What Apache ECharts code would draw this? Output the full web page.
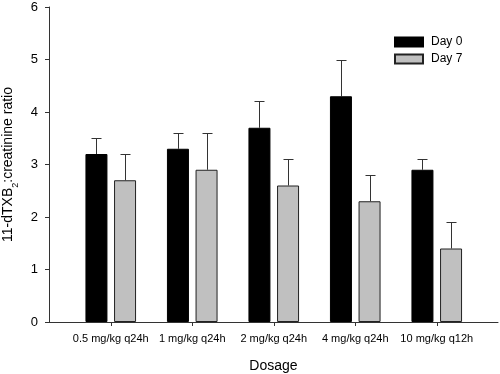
<!DOCTYPE html>
<html>
<head>
<meta charset="utf-8">
<script src="https://cdn.jsdelivr.net/npm/echarts@6/dist/echarts.min.js"></script>
<style>html,body{margin:0;padding:0;background:#fff}#c{width:500px;height:374px}</style>
</head>
<body>
<div id="c"></div>
<script>
const categories = ['0.5 mg/kg q24h', '1 mg/kg q24h', '2 mg/kg q24h', '4 mg/kg q24h', '10 mg/kg q12h'];
const day0 = [3.2, 3.3, 3.7, 4.3, 2.9];
const day0Err = [0.3, 0.3, 0.5, 0.7, 0.2];
const day7 = [2.7, 2.9, 2.6, 2.3, 1.4];
const day7Err = [0.5, 0.7, 0.5, 0.5, 0.5];
const yTicks = [0, 1, 2, 3, 4, 5, 6];

const FONT = 'Liberation Sans, Arial, sans-serif';
const BAR_W = 22;
const OFFSET = 14.3;

function errSeries(name, vals, errs, dx) {
  return {
    type: 'custom',
    name: name + ' err',
    xAxisIndex: 1, yAxisIndex: 1,
    silent: true,
    z: 1,
    encode: { x: 0, y: [1, 2] },
    data: vals.map((v, i) => [i, v, v + errs[i]]),
    renderItem: function (params, api) {
      const b = api.coord([api.value(0), api.value(1)]);
      const t = api.coord([api.value(0), api.value(2)]);
      const x = Math.round(b[0] + dx) + 0.5;
      const ty = Math.round(t[1]) + 0.5;
      const st = { stroke: '#333', lineWidth: 1 };
      return {
        type: 'group',
        children: [
          { type: 'line', shape: { x1: x, y1: b[1], x2: x, y2: ty }, style: st },
          { type: 'line', shape: { x1: x - 5, y1: ty, x2: x + 5, y2: ty }, style: st }
        ]
      };
    }
  };
}

const chart = echarts.init(document.getElementById('c'), null, { renderer: 'canvas' });
chart.setOption({
  animation: false,
  textStyle: { fontFamily: FONT },
  grid: [
    { left: 49, right: 2, top: 7, bottom: 52, containLabel: false, outerBoundsMode: 'none' },
    { left: 70, right: 22.5, top: 7, bottom: 52, containLabel: false, outerBoundsMode: 'none' }
  ],
  legend: {
    orient: 'vertical',
    left: 394, top: 36,
    padding: 0,
    itemWidth: 28, itemHeight: 9, itemGap: 5,
    icon: 'rect',
    textStyle: { fontSize: 12, color: '#000', fontFamily: FONT, padding: [0, 0, 0, 3] },
    data: ['Day 0', 'Day 7']
  },
  xAxis: [
    {
      gridIndex: 0, type: 'value', min: 0, max: 1,
      axisLine: { show: true, lineStyle: { color: '#333', width: 1 } },
      axisTick: { show: false }, axisLabel: { show: false }, splitLine: { show: false },
      name: 'Dosage', nameLocation: 'middle', nameGap: 37,
      nameTextStyle: { fontSize: 14, color: '#000', fontFamily: FONT }
    },
    {
      gridIndex: 1, type: 'category', data: categories,
      axisLine: { show: false },
      axisTick: { show: true, alignWithLabel: true, length: 4, lineStyle: { color: '#333' } },
      axisLabel: { fontSize: 11, color: '#000', margin: 11, interval: 0, fontFamily: FONT },
      splitLine: { show: false }
    }
  ],
  yAxis: [
    {
      gridIndex: 0, type: 'value', min: 0, max: 6, interval: 1,
      axisLine: { show: true, lineStyle: { color: '#333', width: 1 } },
      axisTick: { show: true, length: 4, lineStyle: { color: '#333' } },
      axisLabel: { fontSize: 13, color: '#000', margin: 11, fontFamily: FONT,
        formatter: v => (yTicks.indexOf(v) >= 0 ? String(v) : '') },
      splitLine: { show: false },
      name: '11-dTXB{sub|2}:creatinine ratio',
      nameLocation: 'middle', nameGap: 33,
      nameTextStyle: { fontSize: 14, color: '#000', fontFamily: FONT,
        rich: { sub: { fontSize: 9, verticalAlign: 'bottom', padding: [0, 0, -5, 0], fontFamily: FONT, color: '#000' } } }
    },
    {
      gridIndex: 1, type: 'value', min: 0, max: 6, interval: 1, show: false
    }
  ],
  series: [
    {
      name: 'Day 0', type: 'bar', xAxisIndex: 1, yAxisIndex: 1,
      data: day0, barWidth: BAR_W, barGap: '30%',
      itemStyle: { color: '#000', borderColor: '#000', borderWidth: 1 }, z: 2
    },
    {
      name: 'Day 7', type: 'bar', xAxisIndex: 1, yAxisIndex: 1,
      data: day7, barWidth: BAR_W, barGap: '30%',
      itemStyle: { color: '#c0c0c0', borderColor: '#222', borderWidth: 1 }, z: 2
    },
    errSeries('Day 0', day0, day0Err, -OFFSET),
    errSeries('Day 7', day7, day7Err, OFFSET)
  ]
});
</script>
</body>
</html>
